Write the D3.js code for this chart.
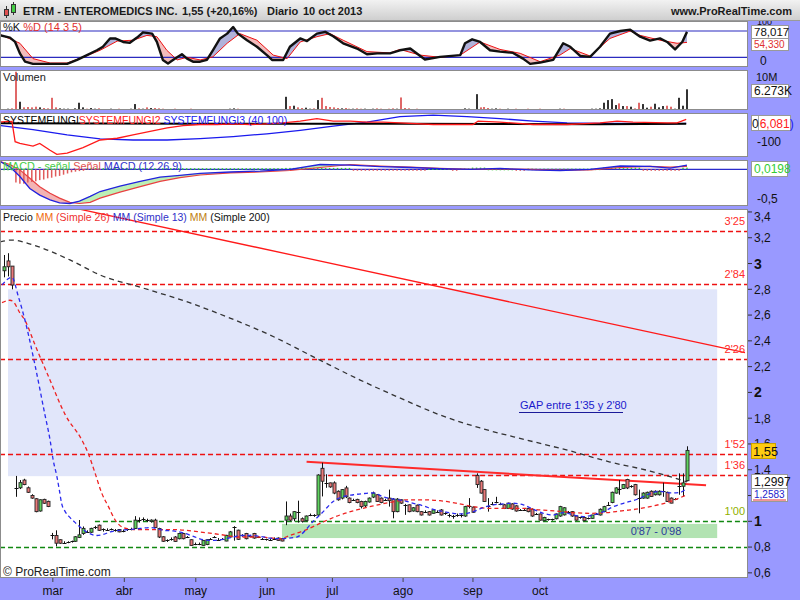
<!DOCTYPE html>
<html><head><meta charset="utf-8">
<script src="https://cdn.jsdelivr.net/npm/d3@7"></script>
<style>
html,body{margin:0;padding:0;background:#fff;}
svg{display:block;font-family:"Liberation Sans",Arial,sans-serif;}
</style></head><body>
<svg id="chart" width="800" height="600"></svg>
<script>
// ================= DATA =================
const openP = [
2.944,3.02,2.98,1.26,1.26,1.32,1.26,1.20,1.175,1.08,
1.17,1.155,0.895,0.89,0.857,0.84,0.835,0.84,0.845,0.875,
0.905,0.92,0.915,0.95,0.97,0.935,0.937,0.94,0.93,0.936,
0.925,0.935,0.94,0.944,1.01,1.02,1.01,0.998,1.009,0.944,
0.88,0.85,0.865,0.878,0.865,0.905,0.878,0.857,0.826,0.826,
0.813,0.82,0.865,0.878,0.862,0.865,0.847,0.878,0.95,0.931,
0.89,0.905,0.89,0.905,0.878,0.862,0.86,0.86,0.865,0.87,
0.865,1.009,1.041,1.02,1.07,1.02,1.005,1.05,1.045,1.049,
1.411,1.298,1.298,1.298,1.233,1.18,1.259,1.18,1.167,1.17,
1.154,1.12,1.15,1.188,1.206,1.18,1.167,1.18,1.172,1.075,
1.167,1.128,1.128,1.08,1.125,1.075,1.075,1.075,1.062,1.075,
1.088,1.062,1.049,1.041,1.049,1.049,1.041,1.114,1.11,1.356,
1.311,1.246,1.12,1.135,1.146,1.135,1.128,1.10,1.135,1.12,
1.088,1.088,1.10,1.093,1.057,1.057,1.005,1.015,1.015,1.02,
1.041,1.05,1.075,1.075,1.041,1.03,1.03,1.023,1.023,1.057,
1.049,1.075,1.128,1.146,1.219,1.246,1.255,1.324,1.27,1.285,
1.18,1.18,1.18,1.233,1.206,1.206,1.233,1.225,1.18,1.172,
1.27,1.272,1.315];
const highP = [
3.066,3.08,2.98,1.352,1.32,1.33,1.27,1.21,1.18,1.17,
1.175,1.16,0.91,0.93,0.86,0.845,0.845,0.85,0.885,1.01,
0.96,0.93,0.95,0.965,0.975,0.945,0.945,0.945,0.94,0.94,
0.935,0.94,0.95,1.04,1.03,1.03,1.02,1.015,1.02,0.95,
0.885,0.86,0.875,0.885,0.91,0.91,0.885,0.86,0.835,0.835,
0.855,0.86,0.87,0.885,0.87,0.87,0.895,0.925,0.962,0.935,
0.90,0.91,0.895,0.91,0.885,0.87,0.865,0.865,0.875,0.875,
0.87,1.154,1.06,1.08,1.16,1.03,1.045,1.06,1.055,1.365,
1.455,1.365,1.30,1.31,1.24,1.25,1.275,1.185,1.175,1.175,
1.16,1.16,1.185,1.23,1.21,1.185,1.175,1.246,1.18,1.18,
1.17,1.135,1.13,1.11,1.13,1.08,1.085,1.08,1.095,1.085,
1.095,1.07,1.06,1.05,1.06,1.06,1.12,1.18,1.115,1.372,
1.32,1.25,1.18,1.15,1.19,1.145,1.135,1.145,1.14,1.125,
1.095,1.095,1.105,1.10,1.065,1.06,1.035,1.02,1.02,1.06,
1.12,1.11,1.08,1.08,1.045,1.035,1.035,1.03,1.05,1.065,
1.10,1.12,1.15,1.23,1.265,1.32,1.29,1.33,1.28,1.29,
1.246,1.225,1.23,1.24,1.24,1.24,1.30,1.23,1.185,1.18,
1.372,1.372,1.582];
const lowP = [
2.893,2.90,2.80,1.19,1.25,1.28,1.22,1.175,1.07,1.075,
1.135,1.11,0.86,0.805,0.825,0.83,0.83,0.835,0.84,0.87,
0.895,0.91,0.91,0.94,0.925,0.92,0.925,0.93,0.92,0.915,
0.915,0.925,0.93,0.94,0.99,1.0,0.995,0.99,0.95,0.87,
0.84,0.84,0.85,0.84,0.86,0.86,0.87,0.81,0.815,0.815,
0.81,0.815,0.855,0.87,0.855,0.855,0.845,0.875,0.85,0.855,
0.88,0.86,0.88,0.865,0.87,0.855,0.85,0.85,0.855,0.85,
0.845,0.97,1.0,1.0,0.99,0.99,1.0,1.04,1.035,1.04,
1.193,1.26,1.26,1.21,1.16,1.17,1.18,1.14,1.16,1.14,
1.10,1.11,1.145,1.18,1.15,1.14,1.16,1.114,1.023,1.07,
1.135,1.05,1.07,1.075,1.07,1.045,1.065,1.045,1.06,1.065,
1.045,1.05,1.03,1.02,1.035,1.03,1.035,1.10,1.065,1.259,
1.215,1.15,1.075,1.125,1.14,1.125,1.095,1.095,1.09,1.075,
1.08,1.08,1.07,1.035,1.05,1.005,1.0,1.005,1.005,1.015,
1.035,1.045,1.065,1.035,1.005,1.02,1.0,1.015,1.02,1.05,
1.045,1.07,1.12,1.14,1.215,1.206,1.25,1.25,1.26,1.20,
1.062,1.175,1.175,1.19,1.20,1.20,1.19,1.15,1.14,1.165,
1.206,1.193,1.31];
const closeP = [
2.975,2.975,2.833,1.255,1.30,1.285,1.225,1.18,1.075,1.167,
1.14,1.115,0.89,0.83,0.83,0.835,0.84,0.845,0.88,0.895,
0.945,0.915,0.945,0.952,0.93,0.937,0.935,0.943,0.932,0.918,
0.926,0.937,0.943,1.009,1.008,1.02,1.008,1.009,0.952,0.878,
0.845,0.852,0.866,0.844,0.905,0.865,0.879,0.813,0.825,0.827,
0.852,0.857,0.866,0.879,0.858,0.866,0.891,0.918,0.952,0.86,
0.891,0.865,0.888,0.87,0.879,0.863,0.861,0.858,0.866,0.852,
0.847,1.041,1.009,1.075,1.072,1.0,1.041,1.051,1.046,1.359,
1.311,1.297,1.267,1.219,1.167,1.246,1.19,1.146,1.168,1.146,
1.114,1.154,1.18,1.219,1.154,1.146,1.168,1.16,1.075,1.172,
1.141,1.129,1.075,1.105,1.075,1.049,1.076,1.049,1.088,1.076,
1.049,1.063,1.05,1.042,1.05,1.05,1.114,1.115,1.07,1.285,
1.219,1.154,1.121,1.136,1.147,1.136,1.10,1.141,1.095,1.08,
1.089,1.087,1.075,1.041,1.058,1.009,1.03,1.016,1.014,1.057,
1.114,1.105,1.076,1.041,1.009,1.031,1.005,1.024,1.049,1.058,
1.093,1.114,1.129,1.225,1.259,1.247,1.285,1.259,1.271,1.206,
1.181,1.219,1.225,1.193,1.233,1.233,1.234,1.154,1.141,1.173,
1.271,1.298,1.55];
// volume, millions
const volumeM = [
0.3,0.4,0.5,11.6,2.5,0.8,0.9,0.8,1.0,0.8,
0.6,0.5,3.7,0.8,0.5,0.4,0.4,0.3,0.5,2.2,
0.8,0.4,0.6,0.4,0.5,0.3,0.3,0.4,0.3,0.4,
0.3,0.3,0.4,1.8,0.5,0.4,0.8,0.6,0.6,0.5,
0.4,0.3,0.3,0.4,0.3,0.3,0.2,0.4,0.3,0.3,
0.3,0.3,0.2,0.3,0.3,0.2,0.3,0.4,0.5,0.4,
0.3,0.3,0.2,0.3,0.2,0.3,0.2,0.3,0.3,0.2,
0.3,4.0,1.2,1.3,0.8,0.6,0.7,0.4,0.5,3.0,
3.7,1.2,0.9,0.8,0.6,0.5,0.6,0.4,0.4,0.5,
0.4,0.4,0.3,0.4,0.5,0.4,0.3,0.4,0.5,0.4,
3.8,0.6,0.5,0.3,0.4,0.3,0.3,0.2,0.3,0.3,
0.2,0.3,0.3,0.2,0.3,0.3,0.5,0.4,0.3,4.8,
0.8,0.9,0.6,0.4,0.5,0.4,0.3,0.4,0.3,0.4,
0.3,0.3,0.4,0.3,0.3,0.4,0.3,0.2,0.3,0.3,
0.4,0.4,0.3,0.3,0.3,0.2,0.3,0.3,0.4,0.4,
0.5,2.2,3.0,3.3,1.5,2.0,1.2,1.2,1.0,0.5,
2.2,1.8,0.7,1.0,1.9,0.8,1.2,1.3,1.0,0.4,
3.7,1.3,6.27];
// moving averages: [day index, value]
const ma13 = [[-0.5,2.834],[2,2.893],[3.6,2.745],[5.3,2.558],[7.8,2.213],[10.3,1.828],[11.6,1.631],[12.4,1.474],[13.3,1.35],[13.9,1.25],[14.5,1.14],[15.4,1.075],[16.6,1.03],[18.3,0.98],[19.6,0.944],[21.2,0.91],[23.4,0.89],[24.9,0.897],[26.7,0.917],[29.2,0.93],[31.7,0.936],[34.3,0.944],[36.8,0.952],[40.1,0.93],[42.6,0.925],[45.2,0.91],[47.7,0.883],[50.2,0.857],[52.7,0.852],[55.2,0.86],[57.8,0.878],[59.4,0.89],[62,0.89],[64.5,0.883],[67,0.87],[69.5,0.865],[73.7,0.878],[77.9,1.0],[80.4,1.075],[82.9,1.154],[85.5,1.193],[88,1.206],[90.5,1.215],[93,1.22],[95.5,1.19],[98.1,1.172],[100.6,1.16],[103.1,1.14],[105.6,1.12],[108.1,1.093],[110.7,1.075],[113.2,1.062],[115.7,1.057],[118.2,1.075],[120.7,1.106],[123.2,1.128],[125.8,1.135],[128.3,1.14],[130.8,1.128],[133.3,1.093],[135.8,1.062],[138.4,1.049],[140.9,1.067],[143.4,1.049],[145.9,1.036],[148.4,1.049],[151,1.075],[153.5,1.114],[156,1.14],[157.7,1.154],[160.2,1.18],[162.7,1.215],[165.2,1.233],[167.8,1.22],[170.3,1.225],[172,1.258]];
const ma26 = [[-0.5,2.696],[1.5,2.715],[2.3,2.705],[4,2.617],[5.3,2.558],[7.8,2.37],[11.6,2.095],[15.4,1.828],[19.6,1.631],[21.2,1.528],[22.9,1.377],[24.6,1.22],[26.3,1.114],[28,1.01],[30,0.952],[32.6,0.936],[35.9,0.936],[39.3,0.936],[42.6,0.936],[46,0.93],[49.4,0.917],[52.7,0.905],[56.1,0.89],[59.4,0.878],[64.5,0.878],[69.5,0.865],[72,0.89],[76.2,0.936],[80.4,0.996],[84.6,1.049],[88.8,1.088],[93,1.12],[97.2,1.146],[101.4,1.167],[105.6,1.167],[109.8,1.16],[114,1.14],[118.2,1.114],[122.4,1.1],[126.6,1.1],[130.8,1.1],[135,1.088],[139.2,1.08],[143.4,1.067],[147.6,1.062],[151.8,1.067],[156,1.083],[157.7,1.088],[162.7,1.114],[167.8,1.154],[172,1.206]];
const ma200 = [[-1,3.168],[2,3.182],[7.3,3.144],[16.6,3.028],[24.2,2.911],[35,2.81],[46.9,2.694],[56.9,2.577],[67,2.445],[79,2.259],[89.7,2.096],[99.7,1.957],[109.8,1.825],[119.9,1.724],[131.7,1.63],[142.6,1.546],[152.6,1.46],[162.7,1.39],[172,1.306]];
// drawn objects
const longTrend = [[19,3.422],[186.6,2.308]];
const shortTrend = [[76.2,1.462],[176.8,1.279]];
const gapZone = {from:1, to:179.6, low:1.35, high:2.80};
const supportZone = {from:70, to:179.6, low:0.87, high:0.98};
const levelValues = [3.25, 2.84, 2.26, 1.52, 1.36, 1.00, 0.80];
const levelLabels = ["3'25","2'84","2'26","1'52","1'36","1'00",""];
const levelStart = [-1,-1,-1,-1,79.6,22.9,-1];
const priceTicks = [0.6,0.8,1,1.2,1.4,1.6,1.8,2,2.2,2.4,2.6,2.8,3,3.2,3.4];
const hiddenTickLabels = [1.2]; // covered by the value boxes in the original
const monthLabels = ["mar","abr","may","jun","jul","ago","sep","oct"];
const monthPos = [12.3,30.3,48.3,66.3,82.7,100.5,118.1,135];
// stochastic %K / %D
const stochK = [[-1,70],[1.5,65],[2.8,55],[4,29],[5.3,10],[7.3,5],[11.6,5],[15.9,5],[18.4,14],[20.9,25],[23.4,36],[24.9,44],[26.7,63],[28,63],[30,55],[31.7,53],[33.5,65],[35,77],[37.3,74],[38.5,55],[40,14],[41.3,6],[43.1,17],[44.8,27],[46.1,17],[47.6,10],[49.4,10],[51.1,14],[52.6,36],[54.4,63],[56.2,74],[57.7,89],[58.9,74],[61.2,59],[63.7,44],[66.2,25],[67.5,14],[70.3,14],[72,44],[74.6,63],[76.3,57],[78.8,74],[80.9,78],[82.9,68],[85.4,52],[88.9,40],[91.4,27],[94,29],[97.2,29],[99.7,36],[102.3,40],[106,15],[109.8,21],[114.9,25],[116.1,52],[117.9,61],[119.9,55],[122.4,36],[124.9,33],[128.2,30],[130.7,17],[132.5,5],[135,8],[138.3,14],[140.8,52],[142.6,44],[145.1,23],[147.6,21],[150.1,44],[152.6,74],[155.2,80],[157.7,83],[160.2,67],[162.7,58],[165.2,63],[167,55],[169,38],[170.8,55],[172,78]];
const stochD = [[-1,72],[4,52],[7.3,17],[11.6,7],[15.9,7],[19.9,20],[24.2,36],[28.5,57],[32.5,59],[36,70],[38.5,67],[41,36],[43.6,14],[46.1,20],[49.4,14],[52.6,21],[56.2,52],[59.4,74],[63.7,59],[67.8,25],[71.3,17],[74.6,55],[78.8,67],[82.1,74],[85.4,59],[91.4,33],[97.2,30],[99.7,38],[104.8,25],[109.8,20],[114.9,25],[119.9,55],[124.9,38],[130,29],[135,10],[140,25],[142.6,40],[147.6,23],[152.6,63],[157.7,80],[160.2,70],[165.2,59],[169.5,52],[172,54]];
// SYSTEMFUNGI lines
const fungi1 = [[-1,8],[24.2,6],[49.4,5],[74.6,5],[99.7,4],[124.9,3],[150.1,2],[171.8,4]];
const fungi2 = [[-1,15],[2,18],[2.8,-100],[4,-110],[7.3,-126],[9,-110],[11.6,-150],[13.3,-174],[15.9,-166],[19.9,-134],[24.2,-90],[28.5,-80],[32.5,-60],[36.8,-40],[41.1,-20],[45.1,-6],[49.4,0],[53.7,0],[57.7,4],[62,0],[66.2,4],[70.3,10],[74.6,20],[78.8,34],[82.9,20],[87.2,20],[91.4,14],[95.5,14],[99.7,10],[108.1,0],[118.1,0],[119.4,20],[124.9,14],[133.3,0],[141.8,0],[150.1,10],[154.4,20],[158.4,14],[167,10],[169.5,10],[171.8,30]];
const fungi3 = [[-1,-6],[7.3,-30],[15.9,-60],[24.2,-84],[32.5,-90],[41.1,-90],[49.4,-82],[57.7,-70],[66.2,-54],[74.6,-34],[82.9,-10],[91.4,14],[99.7,46],[108.1,54],[116.6,46],[124.9,34],[133.3,20],[141.8,10],[150.1,6],[158.4,6],[167,4],[171.8,6]];
// MACD
const macdIdx = [-1,1.5,4,6.5,9,11.6,14,16.6,19,21.7,24.2,29.2,34.3,39.3,44.3,49.4,57,64.5,72,79.6,87.2,94.7,102.3,109.8,117.4,124.9,132.5,140,147.6,155.2,162.7,167.8,172];
const macdLine = [0.13,0.04,-0.12,-0.32,-0.43,-0.51,-0.56,-0.57,-0.53,-0.45,-0.37,-0.28,-0.2,-0.13,-0.1,-0.067,-0.045,-0.03,0.0,0.08,0.07,0.045,0.03,0.01,0.0,0.015,-0.01,-0.02,0.0,0.055,0.05,0.02,0.07];
const signalLine = [0.13,0.08,-0.01,-0.15,-0.29,-0.40,-0.48,-0.55,-0.57,-0.55,-0.48,-0.38,-0.29,-0.2,-0.14,-0.095,-0.06,-0.045,-0.02,0.03,0.08,0.055,0.035,0.015,0.0,0.005,0.0,-0.015,-0.01,0.03,0.05,0.035,0.05];
const macdHist = [
0,0,0,-0.22,-0.24,-0.24,-0.22,-0.21,-0.2,-0.18,
-0.17,-0.15,-0.14,-0.12,-0.11,-0.09,-0.07,-0.05,-0.04,-0.03,
-0.02,0.01,0.01,0.01,0.01,0.01,0.01,0.01,0.01,0.01,
0.01,0.01,0.01,0.01,0.01,0.01,0.01,0.01,0.01,0.01,
0.01,0.01,0.01,0.01,0.01,0.01,0.01,0.01,0.01,0.01,
0.01,0.01,0.01,0.01,0.01,0.01,0.01,0.01,0.01,0.01,
0.01,0.01,0.01,0.01,0.01,0.01,0.01,0.01,0.01,0.01,
0.01,0.015,0.015,0.015,0.015,0.015,0.015,0.015,0.015,0.015,
0.015,0.015,0.015,0.015,0.015,0.015,0.015,0.015,-0.012,-0.012,
-0.012,-0.012,-0.012,-0.012,-0.012,-0.012,-0.012,-0.012,-0.012,-0.012,
-0.012,-0.012,-0.012,-0.012,-0.012,-0.012,-0.012,0.005,0.005,0.005,
0.005,0.005,0.005,-0.012,-0.012,0.005,0.005,0.005,0.02,0.02,
0.02,0.02,0,0,0,0,0,0,0,-0.012,
-0.012,-0.012,0.003,0.003,0.003,0.003,0.003,0.003,0.003,0.003,
0.003,0.003,0.003,0.003,0.003,0.003,0.003,0.003,0.003,0.003,
0.003,0.02,0.02,0.02,0.02,0.02,0.02,0.02,0.02,0.02,
0.02,-0.005,-0.005,-0.005,-0.005,-0.005,-0.012,-0.012,-0.012,-0.012,
-0.012,0.018,0.0198];

// ================= DRAW =================
const svg = d3.select('#chart');
const defs = svg.append('defs');
const N = closeP.length;
const x = d3.scaleLinear().domain([0, N-1]).range([4, 687]);
const yP = d3.scaleLinear().domain([1, 2.8]).range([521.3, 289.3]);
const yS = d3.scaleLinear().domain([20, 80]).range([57.3, 31]);
const yV = d3.scaleLinear().domain([0, 10]).range([110, 77]);
const yF = d3.scaleLinear().domain([-100, 0]).range([141.7, 124.5]);
const yM = d3.scaleLinear().domain([-0.5, 0]).range([199.3, 169.3]);
const PW = 747;

svg.append('rect').attr('width',800).attr('height',600).attr('fill','#9999ff');

const panels = [[21,67],[70,110],[113,157],[160,206],[209,578]];
panels.forEach(([t,b],k)=>{
  svg.append('rect').attr('x',0.5).attr('y',t+0.5).attr('width',PW).attr('height',b-t-1)
    .attr('fill','#fff').attr('stroke','#8c8c8c');
  defs.append('clipPath').attr('id','cp'+k).append('rect')
    .attr('x',1).attr('y',t+1).attr('width',PW-1).attr('height',b-t-2);
});
const gS = svg.append('g').attr('clip-path','url(#cp0)');
const gV = svg.append('g').attr('clip-path','url(#cp1)');
const gF = svg.append('g').attr('clip-path','url(#cp2)');
const gM = svg.append('g').attr('clip-path','url(#cp3)');
const gP = svg.append('g').attr('clip-path','url(#cp4)');

function pairLine(ys){ return d3.line().x(d=>x(d[0])).y(d=>ys(d[1])); }

function fillBetween(g, A, B, ys, top, bottom, colUp, colDn, id){
  const la = A.map(d=>[x(d[0]), ys(d[1])]);
  const lb = B.map(d=>[x(d[0]), ys(d[1])]);
  const poly = la.concat(lb.slice().reverse());
  const xa = lb[0][0], xb = lb[lb.length-1][0];
  const up = lb.concat([[xb+5,lb[lb.length-1][1]],[xb+5,top],[xa-5,top],[xa-5,lb[0][1]]]);
  const dn = lb.concat([[xb+5,lb[lb.length-1][1]],[xb+5,bottom],[xa-5,bottom],[xa-5,lb[0][1]]]);
  defs.append('clipPath').attr('id',id+'u').append('path').attr('d',d3.line()(up)+'Z');
  defs.append('clipPath').attr('id',id+'d').append('path').attr('d',d3.line()(dn)+'Z');
  g.append('g').attr('clip-path',`url(#${id}u)`).append('path').attr('d',d3.line()(poly)+'Z').attr('fill',colUp);
  g.append('g').attr('clip-path',`url(#${id}d)`).append('path').attr('d',d3.line()(poly)+'Z').attr('fill',colDn);
}

// ---- Stochastic ----
fillBetween(gS, stochK, stochD, yS, 0, 100, '#b0b2da', '#f3bcbc', 'st');
[80,20].forEach(v=>gS.append('line').attr('x1',0).attr('x2',PW).attr('y1',yS(v)).attr('y2',yS(v)).attr('stroke','#2b2bbf').attr('stroke-width',1.2));
gS.append('path').datum(stochD).attr('d',pairLine(yS)).attr('fill','none').attr('stroke','#ee1111').attr('stroke-width',1);
gS.append('path').datum(stochK).attr('d',pairLine(yS)).attr('fill','none').attr('stroke','#111').attr('stroke-width',2.4).attr('stroke-linejoin','round');
svg.append('text').attr('x',3).attr('y',31).attr('font-size',11)
  .call(t=>{t.append('tspan').attr('fill','#111').text('%K ');t.append('tspan').attr('fill','#e03030').text('%D (14 3 5)');});

// ---- Volume ----
gV.selectAll('rect.v').data(volumeM).enter().append('rect')
  .attr('x',(d,i)=>Math.round(x(i))-1).attr('width',2)
  .attr('y',d=>yV(d)).attr('height',d=>Math.max(1,110-yV(d)))
  .attr('fill',(d,i)=> (i===0||closeP[i]>=closeP[i-1]) ? '#333' : '#e06868');
svg.append('text').attr('x',3).attr('y',81).attr('font-size',11).attr('fill','#222').text('Volumen');

// ---- SYSTEMFUNGI ----
gF.append('path').datum(fungi3).attr('d',pairLine(yF)).attr('fill','none').attr('stroke','#1a1aee').attr('stroke-width',1.3);
gF.append('path').datum(fungi1).attr('d',pairLine(yF)).attr('fill','none').attr('stroke','#000').attr('stroke-width',2);
gF.append('path').datum(fungi2).attr('d',pairLine(yF)).attr('fill','none').attr('stroke','#ff1a1a').attr('stroke-width',1.3);
svg.append('text').attr('x',3).attr('y',124).attr('font-size',10.5)
  .call(t=>{t.append('tspan').attr('fill','#000').text('SYSTEMFUNGI');
           t.append('tspan').attr('fill','#ff2020').text('SYSTEMFUNGI2');
           t.append('tspan').attr('fill','#2020ee').text(' SYSTEMFUNGI3 (40 100)');});

// ---- MACD ----
const macdPts = macdIdx.map((d,i)=>[d, macdLine[i]]);
const sigPts = macdIdx.map((d,i)=>[d, signalLine[i]]);
fillBetween(gM, macdPts, sigPts, yM, 0, 300, '#bdf0b5', '#f3b3b3', 'mc');
gM.append('line').attr('x1',0).attr('x2',PW).attr('y1',yM(0)).attr('y2',yM(0)).attr('stroke','#2b2bcc').attr('stroke-width',1.2);
gM.selectAll('rect.h').data(macdHist).enter().append('rect')
  .attr('x',(d,i)=>x(i)-0.75).attr('width',1.5)
  .attr('y',d=> d>=0 ? yM(d)-0.5 : yM(0))
  .attr('height',d=>Math.max(1.5, Math.abs(yM(d)-yM(0))))
  .attr('fill',d=> d>=0 ? '#33cc33' : '#e05a5a');
gM.append('path').datum(sigPts).attr('d',pairLine(yM)).attr('fill','none').attr('stroke','#e84040').attr('stroke-width',1.2);
gM.append('path').datum(macdPts).attr('d',pairLine(yM)).attr('fill','none').attr('stroke','#2222dd').attr('stroke-width',1.3);
svg.append('text').attr('x',3).attr('y',170).attr('font-size',10.8)
  .call(t=>{t.append('tspan').attr('fill','#44cc44').text('MACD - señal');
           t.append('tspan').attr('fill','#e05050').text(' Señal');
           t.append('tspan').attr('fill','#3333cc').text(' MACD (12 26 9)');});

// ---- Price panel ----
gP.append('rect').attr('x',x(gapZone.from)).attr('width',x(gapZone.to)-x(gapZone.from))
  .attr('y',yP(gapZone.high)).attr('height',yP(gapZone.low)-yP(gapZone.high)).attr('fill','#e1e6fa');
gP.append('rect').attr('x',x(supportZone.from)).attr('width',x(supportZone.to)-x(supportZone.from))
  .attr('y',yP(supportZone.high)).attr('height',yP(supportZone.low)-yP(supportZone.high)).attr('fill','#b2e3b2');
levelValues.forEach((v,i)=>{
  const green = v<=1.0001;
  gP.append('line').attr('x1',Math.max(0,x(levelStart[i]))).attr('x2',PW)
    .attr('y1',Math.round(yP(v))+0.5).attr('y2',Math.round(yP(v))+0.5)
    .attr('stroke', green ? '#118811' : '#ee1111').attr('stroke-width',1.3).attr('stroke-dasharray','5,3');
});
svg.append('text').attr('x',3).attr('y',221).attr('font-size',10.5)
  .call(t=>{t.append('tspan').attr('fill','#111').text('Precio ');
           t.append('tspan').attr('fill','#f06a10').text('MM ');
           t.append('tspan').attr('fill','#ee3030').text('(Simple 26) ');
           t.append('tspan').attr('fill','#3030c8').text('MM (Simple 13) ');
           t.append('tspan').attr('fill','#c08010').text('MM ');
           t.append('tspan').attr('fill','#111').text('(Simple 200)');});
// trend lines
gP.append('path').datum(longTrend).attr('d',pairLine(yP)).attr('fill','none').attr('stroke','#ff1a1a').attr('stroke-width',1.3);
gP.append('path').datum(shortTrend).attr('d',pairLine(yP)).attr('fill','none').attr('stroke','#ff2a2a').attr('stroke-width',2);
// candles
const cg = gP.append('g');
for(let i=0;i<N;i++){
  const xi = Math.round(x(i))+0.5;
  cg.append('line').attr('x1',xi).attr('x2',xi).attr('y1',yP(highP[i])).attr('y2',yP(lowP[i])).attr('stroke','#111').attr('stroke-width',1);
  const yo=yP(openP[i]), yc=yP(closeP[i]);
  if(Math.abs(yo-yc)<1.2){
    cg.append('line').attr('x1',xi-2).attr('x2',xi+2).attr('y1',Math.round(yc)+0.5).attr('y2',Math.round(yc)+0.5).attr('stroke','#111').attr('stroke-width',1);
  } else {
    cg.append('rect').attr('x',xi-1.5).attr('width',3).attr('y',Math.min(yo,yc)).attr('height',Math.abs(yo-yc))
      .attr('fill', closeP[i]>=openP[i] ? '#5fd35f' : '#ea7a7a').attr('stroke','#222').attr('stroke-width',0.9);
  }
}
// moving averages
gP.append('path').datum(ma200).attr('d',pairLine(yP).curve(d3.curveMonotoneX)).attr('fill','none').attr('stroke','#333').attr('stroke-width',1.3).attr('stroke-dasharray','5,4');
gP.append('path').datum(ma26).attr('d',pairLine(yP).curve(d3.curveMonotoneX)).attr('fill','none').attr('stroke','#ee2222').attr('stroke-width',1.3).attr('stroke-dasharray','4,3');
gP.append('path').datum(ma13).attr('d',pairLine(yP).curve(d3.curveMonotoneX)).attr('fill','none').attr('stroke','#2a2aee').attr('stroke-width',1.3).attr('stroke-dasharray','4,3');
// level labels
levelValues.forEach((v,i)=>{
  if(!levelLabels[i]) return;
  svg.append('text').attr('x',745).attr('y',yP(v)-6).attr('text-anchor','end').attr('font-size',11)
    .attr('fill', v<=1.0001 ? '#8fb000' : '#ff2a2a').text(levelLabels[i]);
});
// annotations
svg.append('text').attr('x',520).attr('y',409).attr('font-size',11).attr('fill','#1a1acc').text("GAP entre 1'35 y 2'80");
svg.append('line').attr('x1',519).attr('x2',623).attr('y1',412.5).attr('y2',412.5).attr('stroke','#1a1a99').attr('stroke-width',1);
svg.append('text').attr('x',656).attr('y',535).attr('text-anchor','middle').attr('font-size',11).attr('fill','#2a3a9a').text("0'87 - 0'98");
svg.append('text').attr('x',3).attr('y',576).attr('font-size',12).attr('fill','#222').text('© ProRealTime.com');

// ---- Right axis ----
const fmt = v => d3.format('.1f')(v).replace('.',',').replace(/,0$/,'');
priceTicks.forEach(v=>{
  const yy = yP(v);
  svg.append('line').attr('x1',748).attr('x2',752).attr('y1',yy).attr('y2',yy).attr('stroke','#333');
  if(hiddenTickLabels.includes(v)) return;
  const isInt = Math.abs(v-Math.round(v))<1e-6;
  svg.append('text').attr('x',754).attr('y',Math.max(yy,217)).attr('dy','0.36em')
    .attr('font-size', isInt?14:12).attr('font-weight', isInt?'bold':'normal').attr('fill','#111').text(fmt(v));
});
function box(xx,yy,w,h,txt,col,fs){
  svg.append('rect').attr('x',xx+0.5).attr('y',yy+0.5).attr('width',w).attr('height',h).attr('fill','#fff').attr('stroke','#999');
  if(txt) svg.append('text').attr('x',xx+3).attr('y',yy+h/2+0.5).attr('dy','0.36em').attr('font-size',fs||12).attr('fill',col).text(txt);
}
// stochastic axis
svg.append('text').attr('x',757).attr('y',24.5).attr('font-size',9).attr('fill','#111').text('100');
svg.append('text').attr('x',760).attr('y',65).attr('font-size',12).attr('fill','#111').text('0');
box(751,38,37,12,'54,330','#e03030',10);
box(751,25,37,13,'78,017','#111',11.5);
// volume axis
svg.append('text').attr('x',756).attr('y',81).attr('font-size',11).attr('fill','#111').text('10M');
box(751,84,37,13,'6.273K','#111');
// fungi axis: one combined box (0 | 6,081 | ))
svg.append('rect').attr('x',751.5).attr('y',115.5).attr('width',39).attr('height',15).attr('fill','#fff').attr('stroke','#999');
svg.append('line').attr('x1',758.5).attr('x2',758.5).attr('y1',116).attr('y2',130).attr('stroke','#aaa');
svg.append('text').attr('x',752).attr('y',123.5).attr('dy','0.36em').attr('font-size',12)
  .call(t=>{t.append('tspan').attr('fill','#111').text('0');
           t.append('tspan').attr('fill','#ff2020').attr('dx',1).text('6,081');
           t.append('tspan').attr('fill','#2020ee').text(')');});
svg.append('text').attr('x',757).attr('y',146).attr('font-size',12).attr('fill','#111').text('-100');
// macd axis
box(751,161,36,15,'0,0198','#33cc33');
svg.append('text').attr('x',757).attr('y',203).attr('font-size',12).attr('fill','#111').text('-0,5');
// price boxes
svg.append('rect').attr('x',751.5).attr('y',488.5).attr('width',36).attr('height',13).attr('fill','#fff').attr('stroke','#999');
svg.append('line').attr('x1',753).attr('x2',786).attr('y1',500).attr('y2',500).attr('stroke','#e03030');
svg.append('text').attr('x',754).attr('y',494).attr('dy','0.36em').attr('font-size',10).attr('fill','#2222cc').text('1,2583');
box(751,474,36,14,'1,2997','#111');
svg.append('rect').attr('x',751.5).attr('y',443.5).attr('width',24).attr('height',15).attr('fill','#ffcc11').attr('stroke','#c9a200');
svg.append('text').attr('x',753).attr('y',451).attr('dy','0.36em').attr('font-size',13).attr('fill','#111').text('1,55');

// ---- bottom axis ----
monthLabels.forEach((m,i)=>{
  const xx = x(monthPos[i]);
  svg.append('line').attr('x1',xx).attr('x2',xx).attr('y1',578).attr('y2',582).attr('stroke','#444');
  svg.append('text').attr('x',xx).attr('y',595).attr('text-anchor','middle').attr('font-size',12).attr('fill','#111').text(m);
});

// ---- header ----
const hg = defs.append('linearGradient').attr('id','hg').attr('x1',0).attr('y1',0).attr('x2',0).attr('y2',1);
hg.append('stop').attr('offset','0%').attr('stop-color','#f2f2f2');
hg.append('stop').attr('offset','100%').attr('stop-color','#cdcdcd');
svg.append('rect').attr('x',0).attr('y',0).attr('width',800).attr('height',21).attr('fill','url(#hg)');
svg.append('line').attr('x1',0).attr('x2',800).attr('y1',20.5).attr('y2',20.5).attr('stroke','#9a9a9a');
svg.append('line').attr('x1',6.5).attr('x2',6.5).attr('y1',6).attr('y2',18).attr('stroke','#333');
svg.append('rect').attr('x',4.5).attr('y',9.5).attr('width',4).attr('height',6).attr('fill','#e05050').attr('stroke','#333');
svg.append('line').attr('x1',13.5).attr('x2',13.5).attr('y1',2).attr('y2',15).attr('stroke','#333');
svg.append('rect').attr('x',11.5).attr('y',4.5).attr('width',4).attr('height',8).attr('fill','#44cc44').attr('stroke','#333');
const ht = (xx,t)=>svg.append('text').attr('x',xx).attr('y',15).attr('font-size',11).attr('font-weight','bold').attr('fill','#1a1a1a').text(t);
ht(23,'ETRM - ENTEROMEDICS INC.');
ht(182,'1,55 (+20,16%)');
ht(267,'Diario');
ht(303,'10 oct 2013');
svg.append('text').attr('x',792).attr('y',15).attr('text-anchor','end').attr('font-size',11).attr('font-weight','bold').attr('fill','#1a1a1a').text('www.ProRealTime.com');
</script>
</body></html>
